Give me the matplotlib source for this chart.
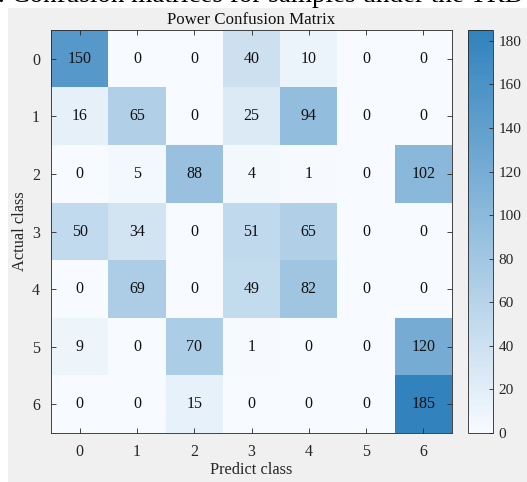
import numpy as np
import matplotlib
matplotlib.use("Agg")
import matplotlib.pyplot as plt
from matplotlib.colors import LinearSegmentedColormap
from matplotlib.patches import Rectangle

plt.rcParams['font.family'] = ['Liberation Serif', 'DejaVu Serif']

classes = ['0', '1', '2', '3', '4', '5', '6']
matrix = [
    [150, 0, 0, 40, 10, 0, 0],
    [16, 65, 0, 25, 94, 0, 0],
    [0, 5, 88, 4, 1, 0, 102],
    [50, 34, 0, 51, 65, 0, 0],
    [0, 69, 0, 49, 82, 0, 0],
    [9, 0, 70, 1, 0, 0, 120],
    [0, 0, 15, 0, 0, 0, 185],
]
cbar_ticks = [0, 20, 40, 60, 80, 100, 120, 140, 160, 180]
title = 'Power Confusion Matrix'
xlabel = 'Predict class'
ylabel = 'Actual class'
cropped_caption = '. Confusion matrices for samples under the TRD'

W, H = 527, 482
fig = plt.figure(figsize=(W / 100, H / 100), dpi=100, facecolor='white')

# gray MATLAB-like panel
fig.patches.append(Rectangle((8 / W, 0), 1 - 8 / W, 1 - 8 / H, transform=fig.transFigure,
                             facecolor='#f0f0f0', edgecolor='none', zorder=-10))

# caption of the source page, cut by the top edge as in the reference
fig.text(-2 / W, 1 - 2.5 / H, cropped_caption, fontsize=19.5, ha='left', va='baseline', color='black')

data = np.array(matrix)
cmap = LinearSegmentedColormap.from_list('mblues', ['#f7fbff', '#3182bd'])
vmax = data.max()

def ax_rect(l, t, r, b):
    return [l / W, 1 - b / H, (r - l) / W, (b - t) / H]

ax = fig.add_axes(ax_rect(51, 30, 452, 433))
im = ax.imshow(data, cmap=cmap, vmin=0, vmax=vmax, aspect='auto')
n = len(classes)
for i in range(n):
    for j in range(n):
        ax.text(j, i, str(data[i, j]), ha='center', va='center', fontsize=11.5, color='#111111')
ax.set_xticks(range(n))
ax.set_yticks(range(n))
ax.set_xticklabels(classes, fontsize=11.5, color='#262626')
ax.set_yticklabels(classes, fontsize=11.5, color='#262626')
ax.tick_params(direction='in', length=3.5, width=0.6, top=True, right=True, color='#262626', pad=8)
for s in ax.spines.values():
    s.set_color('#262626')
    s.set_linewidth(0.6)
ax.set_title(title, fontsize=12.2, pad=4, color='#111111')
ax.set_xlabel(xlabel, fontsize=11.8, labelpad=1, color='#262626')
ax.set_ylabel(ylabel, fontsize=11.8, labelpad=3, color='#262626')

cax = fig.add_axes(ax_rect(468, 30, 493, 433))
cb = fig.colorbar(im, cax=cax, ticks=cbar_ticks)
cb.outline.set_edgecolor('#262626')
cb.outline.set_linewidth(0.6)
cax.tick_params(direction='in', length=3, width=0.6, labelsize=11, color='#262626',
                labelcolor='#262626', pad=4)

fig.savefig('out.png', dpi=100, facecolor='white')
